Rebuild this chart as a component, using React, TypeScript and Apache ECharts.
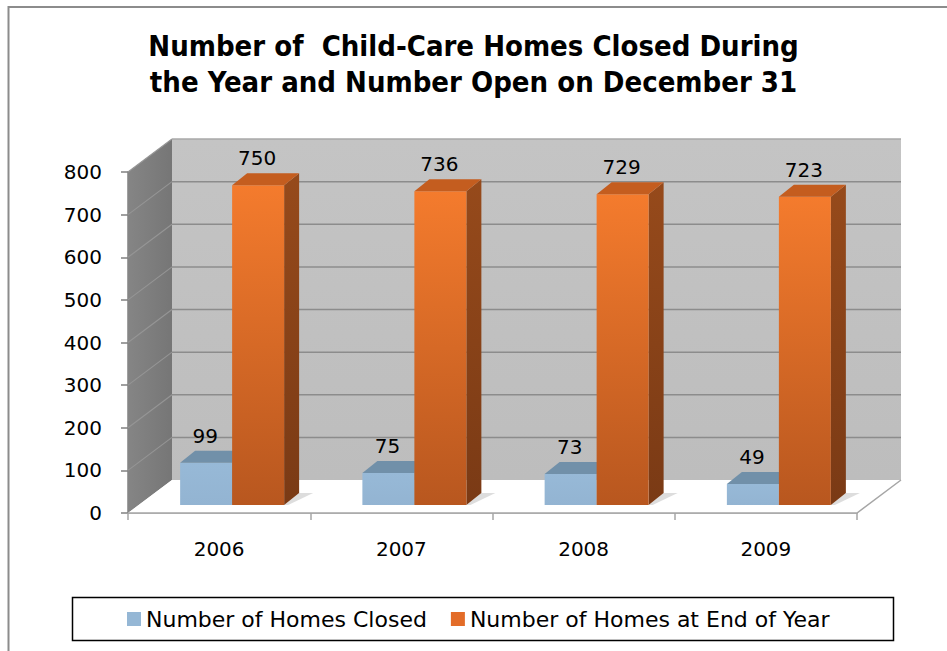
import React, { useEffect, useRef } from "react";
import * as echarts from "echarts";

const categories = ["2006", "2007", "2008", "2009"];
const closedValues = [99, 75, 73, 49];
const openValues = [750, 736, 729, 723];
const yTicks = [0, 100, 200, 300, 400, 500, 600, 700, 800];
const seriesNames = ["Number of Homes Closed", "Number of Homes at End of Year"];

const FONT = "DejaVu Sans";
const WALL_D = [44, -33];
const BAR_OFF = [13, -8];
const BAR_D = [15, -12];
const BAR_FRAC = 0.2853;

function wallsRender(params: any, api: any) {
  const cs = params.coordSys;
  const x = cs.x, y = cs.y, w = cs.width, h = cs.height;
  const dx = WALL_D[0], dy = WALL_D[1];
  const children: any[] = [];
  children.push({
    type: "rect",
    shape: { x: x + dx, y: y + dy, width: w, height: h },
    style: {
      fill: new echarts.graphic.LinearGradient(0, 0, 0, 1, [
        { offset: 0, color: "#c4c4c4" },
        { offset: 1, color: "#bdbdbd" },
      ]),
    },
  });
  children.push({
    type: "polygon",
    shape: { points: [[x, y], [x + dx, y + dy], [x + dx, y + h + dy], [x, y + h]] },
    style: {
      fill: new echarts.graphic.LinearGradient(0, 0, 1, 0, [
        { offset: 0, color: "#858585" },
        { offset: 1, color: "#767676" },
      ]),
    },
  });
  children.push({
    type: "polygon",
    shape: { points: [[x, y + h], [x + dx, y + h + dy], [x + w + dx, y + h + dy], [x + w, y + h]] },
    style: { fill: "#ffffff" },
  });
  for (const v of yTicks) {
    if (v === 0) continue;
    const yy = api.coord([0, v])[1];
    children.push({
      type: "line",
      shape: { x1: x + dx, y1: yy + dy, x2: x + w + dx, y2: yy + dy },
      style: { stroke: v === 800 ? "#a8a8a8" : "#8c8c8c", lineWidth: 1.5 },
    });
    children.push({
      type: "line",
      shape: { x1: x, y1: yy, x2: x + dx, y2: yy + dy },
      style: { stroke: "#959595", lineWidth: 1.2 },
    });
  }
  children.push({
    type: "polyline",
    shape: { points: [[x, y + h], [x + w, y + h], [x + w + dx, y + h + dy]] },
    style: { stroke: "#a6a6a6", lineWidth: 1.5, fill: "none" },
  });
  return { type: "group", children };
}

function makeBarRender(s: number) {
  return function (params: any, api: any) {
    const cat = api.value(0);
    const v = api.value(1);
    const p0 = api.coord([cat, 0]);
    const p1 = api.coord([cat, v]);
    const cw = api.size([1, 0])[0];
    const bw = cw * BAR_FRAC;
    const x0 = p0[0] + BAR_OFF[0] + (s === 0 ? -bw : 0);
    const x1 = x0 + bw;
    const yb = p0[1] + BAR_OFF[1];
    const yt = p1[1] + BAR_OFF[1];
    const dx = BAR_D[0], dy = BAR_D[1];
    const front = s === 0
      ? new echarts.graphic.LinearGradient(0, 0, 0, 1, [
          { offset: 0, color: "#97b9d7" },
          { offset: 1, color: "#93b4d2" },
        ])
      : new echarts.graphic.LinearGradient(0, 0, 0, 1, [
          { offset: 0, color: "#f47b2d" },
          { offset: 1, color: "#b8571f" },
        ]);
    const top = s === 0 ? "#7190a9" : "#c45d1f";
    const side = s === 0
      ? "#6c8ba3"
      : new echarts.graphic.LinearGradient(0, 0, 0, 1, [
          { offset: 0, color: "#964a1b" },
          { offset: 1, color: "#7a3a15" },
        ]);
    const children: any[] = [];
    if (s === 1) {
      children.push({
        type: "polygon",
        shape: { points: [[x1, yb], [x1 + dx, yb + dy], [x1 + dx + 14, yb + dy], [x1 + 4, yb]] },
        style: { fill: "rgba(120,120,120,0.25)" },
      });
    }
    children.push({
      type: "polygon",
      shape: { points: [[x1, yt], [x1 + dx, yt + dy], [x1 + dx, yb + dy], [x1, yb]] },
      style: { fill: side },
    });
    children.push({
      type: "rect",
      shape: { x: x0, y: yt, width: bw, height: yb - yt },
      style: { fill: front },
    });
    children.push({
      type: "polygon",
      shape: { points: [[x0, yt], [x1, yt], [x1 + dx, yt + dy], [x0 + dx, yt + dy]] },
      style: { fill: top },
    });
    children.push({
      type: "text",
      x: (x0 + x1) / 2 - 1,
      y: yt + dy - 15,
      style: {
        text: String(v),
        fill: "#000",
        fontSize: 20,
        fontFamily: FONT,
        align: "center",
        verticalAlign: "middle",
      },
    });
    return { type: "group", children };
  };
}

export default function App() {
  const ref = useRef<HTMLDivElement>(null);
  useEffect(() => {
    document.body.style.margin = "0";
    const chart = echarts.init(ref.current!, null, { renderer: "svg" });
    chart.setOption({
      animation: false,
      backgroundColor: "#ffffff",
      title: {
        text: "Number of  Child-Care Homes Closed During\nthe Year and Number Open on December 31",
        left: "center",
        top: 23,
        textStyle: {
          fontFamily: "DejaVu Sans Condensed",
          fontWeight: "bold",
          fontSize: 29,
          lineHeight: 36,
          color: "#000",
        },
      },
      legend: {
        data: seriesNames,
        left: 127,
        top: 608,
        padding: 0,
        itemWidth: 14,
        itemHeight: 14,
        itemGap: 24,
        icon: "rect",
        selectedMode: false,
        textStyle: { fontFamily: FONT, fontSize: 22, color: "#000" },
      },
      graphic: [
        {
          type: "rect",
          shape: { x: 8.5, y: 7, width: 1000, height: 800 },
          style: { fill: "none", stroke: "#8c8c8c", lineWidth: 2 },
          silent: true,
        },
        {
          type: "rect",
          shape: { x: 72.5, y: 597.5, width: 821, height: 43 },
          style: { fill: "none", stroke: "#000", lineWidth: 1.5 },
          silent: true,
        },
      ],
      grid: { left: 128, right: 90, top: 172, bottom: 138, containLabel: false },
      xAxis: {
        type: "category",
        data: categories,
        boundaryGap: true,
        axisLine: { show: true, lineStyle: { color: "#a6a6a6", width: 1.5 } },
        axisTick: { show: true, length: 7, lineStyle: { color: "#a6a6a6", width: 1.5 } },
        axisLabel: { margin: 26, fontSize: 20, fontFamily: FONT, color: "#000" },
        splitLine: { show: false },
      },
      yAxis: {
        type: "value",
        min: 0,
        max: 800,
        interval: 100,
        axisLine: { show: true, lineStyle: { color: "#808080", width: 1.5 } },
        axisTick: { show: true, length: 7, lineStyle: { color: "#808080", width: 1.5 } },
        axisLabel: { margin: 26, fontSize: 20, fontFamily: FONT, color: "#000" },
        splitLine: { show: false },
      },
      series: [
        {
          type: "custom",
          name: "walls",
          renderItem: wallsRender,
          data: [[0, 0]],
          clip: false,
          silent: true,
          z: 1,
        },
        {
          type: "custom",
          name: seriesNames[0],
          renderItem: makeBarRender(0),
          data: closedValues.map((v, i) => [i, v]),
          itemStyle: { color: "#95b7d5" },
          clip: false,
          z: 3,
        },
        {
          type: "custom",
          name: seriesNames[1],
          renderItem: makeBarRender(1),
          data: openValues.map((v, i) => [i, v]),
          itemStyle: { color: "#e36c28" },
          clip: false,
          z: 4,
        },
      ],
    });
    return () => chart.dispose();
  }, []);
  return (
    <div
      ref={ref}
      style={{ position: "fixed", left: 0, top: 0, width: 947, height: 651 }}
    />
  );
}
